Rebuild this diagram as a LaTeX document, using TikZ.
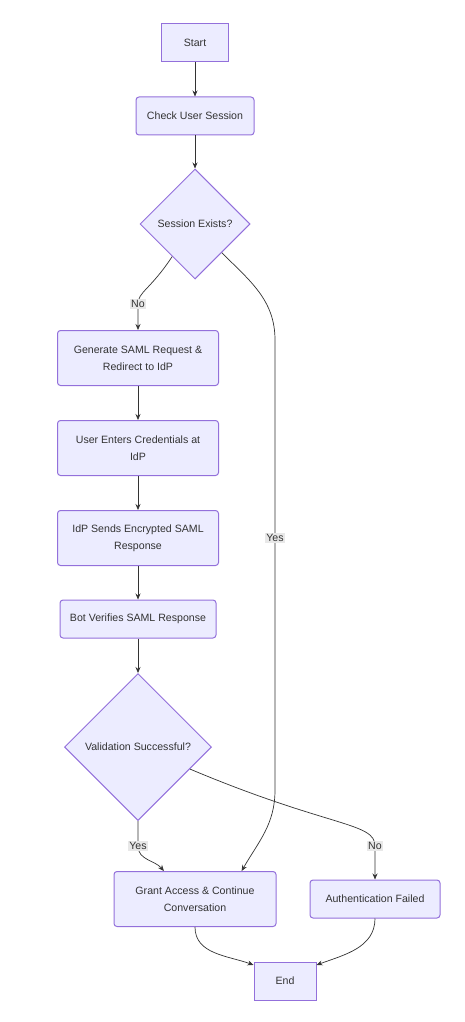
\documentclass[tikz,border=0pt]{standalone}
\usepackage{fontspec}
\setmainfont{Liberation Sans}
\usetikzlibrary{positioning,shapes.geometric,arrows.meta}
\definecolor{boxfill}{HTML}{ECECFF}
\definecolor{boxline}{HTML}{9370DB}
\definecolor{ink}{HTML}{333333}
\definecolor{lblfill}{HTML}{E8E8E8}
\tikzset{
  base/.style={draw=boxline,fill=boxfill,line width=1pt,text=ink,align=center,inner sep=0pt},
  term/.style={base,rectangle},
  proc/.style={base,rectangle,rounded corners=3pt},
  decide/.style={base,diamond,aspect=1},
  edge/.style={draw=ink,line width=0.7pt,-{Stealth[length=6pt,width=5pt]}},
  lbl/.style={fill=lblfill,text=ink,inner sep=1.5pt}
}
\begin{document}
\begin{tikzpicture}[x=1pt,y=1pt,font=\fontsize{10.6pt}{17pt}\selectfont]
    \useasboundingbox (0,0) rectangle (464,-1022);

    \node[term,minimum width=67pt,minimum height=38pt] (start) at (195,-43) {Start};
    \node[proc,minimum width=118pt,minimum height=38pt] (check) at (195,-116) {Check User Session};
    \node[decide,minimum width=110pt,minimum height=110pt] (sess) at (195,-224) {Session Exists?};
    \node[proc,minimum width=161pt,minimum height=55pt] (gen) at (138,-358) {Generate SAML Request \&\\Redirect to IdP};
    \node[proc,minimum width=161pt,minimum height=55pt] (cred) at (138,-448) {User Enters Credentials at\\IdP};
    \node[proc,minimum width=161pt,minimum height=55pt] (resp) at (138,-538) {IdP Sends Encrypted SAML\\Response};
    \node[proc,minimum width=156pt,minimum height=38pt] (verify) at (138,-619) {Bot Verifies SAML Response};
    \node[decide,minimum width=147pt,minimum height=147pt] (valid) at (138,-747) {Validation Successful?};
    \node[proc,minimum width=162pt,minimum height=55pt] (grant) at (195,-899) {Grant Access \& Continue\\Conversation};
    \node[proc,minimum width=130pt,minimum height=38pt] (fail) at (375,-899) {Authentication Failed};
    \node[term,minimum width=62pt,minimum height=38pt] (stop) at (285,-981) {End};

    % bends of the curved connectors
    \coordinate (noA) at (138,-304);
    \coordinate (yesA) at (275,-340);
    \coordinate (yesB) at (275,-790);
    \coordinate (vyA) at (138,-846);
    \coordinate (vnA) at (375,-846);

    \foreach \a/\b in {start/check,check/sess,gen/cred,cred/resp,resp/verify,verify/valid}
        \draw[edge] (\a) -- (\b);

    \draw[edge] (sess.235) .. controls (150,-290) and (138,-292) .. (noA) node[lbl] {No} -- (gen);
    \draw[edge] (sess.-47) to[out=-45,in=90] (yesA) -- node[lbl,pos=0.44] {Yes} (yesB) to[out=-90,in=60] (grant.31);
    \draw[edge] (valid) -- (vyA) node[lbl] {Yes} to[out=-90,in=130] (grant.138);
    \draw[edge] (valid.-23) .. controls (330,-828) and (375,-822) .. (vnA) node[lbl] {No} -- (fail);
    \draw[edge] (grant.south) to[out=-90,in=160] (stop.153);
    \draw[edge] (fail.south) to[out=-90,in=20] (stop.27);
\end{tikzpicture}
\end{document}
